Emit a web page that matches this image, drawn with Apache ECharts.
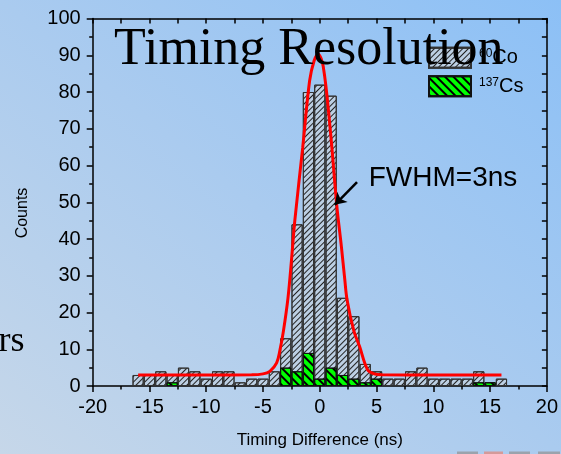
<!DOCTYPE html>
<html><head><meta charset="utf-8">
<script src="https://cdn.jsdelivr.net/npm/echarts@6/dist/echarts.min.js"></script>
<style>
html,body{margin:0;padding:0;width:561px;height:454px;overflow:hidden;}
body{background:linear-gradient(to top right,#c6d7e9 0%,#aacbef 50%,#8cc0f6 100%);}
#c{width:561px;height:454px;}
</style></head><body><div id="c"></div>
<script>
const binCenters = [-16,-15,-14,-13,-12,-11,-10,-9,-8,-7,-6,-5,-4,-3,-2,-1,0,1,2,3,4,5,6,7,8,9,10,11,12,13,14,15,16];
const coCounts   = [3,3,4,3,5,4,2,4,4,1,2,2,4,13,44,80,82,79,24,19,6,4,2,2,4,5,2,2,2,2,4,1,2];
const csCounts   = [0,0,0,1,0,0,0,0,0,0,0,0,0,5,4,9,2,5,3,2,1,2,0,0,0,0,0,0,0,0,1,1,0];
const fitX = [-16,-10,-6,-5,-4.4,-3.8,-3.5,-3.2,-2.8,-2.5,-2.2,-1.5,-0.9,-0.5,-0.15,0.3,0.9,1.5,1.9,2.2,2.4,3.0,3.5,4.2,4.8,5.5,10,16];
const fitY = [3,3,3.05,3.3,4.0,6.3,9.9,15,24,34,45,65,83,88.5,90.3,87,70.5,49,38,29,23.5,15,10.8,4.5,3.3,3.05,3,3];
const xTickMin = -20, xTickMax = 20, xTickStep = 5;
const yTickMin = 0, yTickMax = 100, yTickStep = 10;
const seriesNames = ['60Co','137Cs'];
const legendLabels = {'60Co':'{s|60}{b|Co}','137Cs':'{s|137}{b|Cs}'};
const titleText = 'Timing Resolution';
const noteText = 'FWHM=3ns';
const arrowFrom = [3.28,55.5], arrowTo = [1.32,49.3];

const SANS = "'Liberation Sans', Arial, sans-serif";
const SERIF = "'Liberation Serif', 'Times New Roman', serif";
const chart = echarts.init(document.getElementById('c'), null, {renderer:'canvas'});
const coData = binCenters.map((x,i)=>[x, coCounts[i]]);
const csData = binCenters.map((x,i)=>csCounts[i] ? [x, csCounts[i]] : [x, '-']);
const fitData = fitX.map((x,i)=>[x, fitY[i]]);
const axisLine = {show:true, onZero:false, lineStyle:{color:'#000', width:1.5}};
chart.setOption({
  animation:false,
  backgroundColor:'transparent',
  grid:{left:92.7, right:13.3, top:18.5, bottom:67.5, containLabel:false},
  xAxis:[{
    type:'value', position:'bottom', min:xTickMin, max:xTickMax, interval:xTickStep,
    axisLine, splitLine:{show:false},
    axisTick:{show:true, inside:false, length:6, lineStyle:{color:'#000', width:1.5}},
    minorTick:{show:true, splitNumber:2, length:3.5, lineStyle:{color:'#000', width:1.5}},
    axisLabel:{color:'#000', fontSize:20, fontFamily:SANS, margin:11},
    name:'Timing Difference (ns)', nameLocation:'middle', nameGap:46,
    nameTextStyle:{color:'#000', fontSize:17, fontFamily:SANS}
  },{
    type:'value', position:'top', min:xTickMin, max:xTickMax, interval:xTickStep/2,
    axisLine, splitLine:{show:false},
    axisTick:{show:true, inside:true, length:5, lineStyle:{color:'#000', width:1.5}},
    axisLabel:{show:false}
  }],
  yAxis:[{
    type:'value', position:'left', min:yTickMin, max:yTickMax, interval:yTickStep,
    axisLine, splitLine:{show:false},
    axisTick:{show:true, inside:false, length:6, lineStyle:{color:'#000', width:1.5}},
    minorTick:{show:true, splitNumber:2, length:3.5, lineStyle:{color:'#000', width:1.5}},
    axisLabel:{color:'#000', fontSize:20, fontFamily:SANS, margin:12}
  },{
    type:'value', position:'right', min:yTickMin, max:yTickMax, interval:yTickStep/2,
    axisLine, splitLine:{show:false},
    axisTick:{show:true, inside:true, length:5, lineStyle:{color:'#000', width:1.5}},
    axisLabel:{show:false}
  }],
  legend:{
    orient:'vertical', left:428, top:46.7, padding:0, itemWidth:42, itemHeight:20, itemGap:6.6,
    icon:'rect', data:seriesNames, selectedMode:false,
    formatter:n=>legendLabels[n],
    textStyle:{color:'#000', padding:[0,0,0,3],
      rich:{s:{fontSize:12, fontFamily:SANS, color:'#000', verticalAlign:'top', lineHeight:20},
            b:{fontSize:20, fontFamily:SANS, color:'#000', verticalAlign:'bottom', lineHeight:20}}}
  },
  series:[{
    name:seriesNames[0], type:'bar', data:coData, barWidth:11.2, xAxisIndex:0, yAxisIndex:0,
    itemStyle:{color:'#bccfe3', borderColor:'#333', borderWidth:1,
      decal:{symbol:'rect', symbolSize:1, color:'#222', dashArrayX:[1,0], dashArrayY:[1,2.6], rotation:-Math.PI/4}},
    z:2
  },{
    name:seriesNames[1], type:'bar', data:csData, barWidth:11.2, barGap:'-100%', xAxisIndex:0, yAxisIndex:0,
    itemStyle:{color:'#00ff00', borderColor:'#111', borderWidth:1,
      decal:{symbol:'rect', symbolSize:1, color:'#000', dashArrayX:[1,0], dashArrayY:[1.6,3.4], rotation:Math.PI/4}},
    z:3
  },{
    name:'fit', type:'line', data:fitData, smooth:0.35, showSymbol:false, symbol:'none',
    lineStyle:{color:'#ff0000', width:3}, z:4, silent:true,
    markLine:{silent:true, symbol:['none','arrow'], symbolSize:11, label:{show:false},
      lineStyle:{color:'#000', width:2.5, type:'solid'},
      data:[[{coord:arrowFrom},{coord:arrowTo}]]}
  }],
  graphic:[
    {type:'text', x:114, y:50, z:100, style:{text:titleText, font:"52px "+SERIF, fill:'#000', align:'left', verticalAlign:'middle'}},
    {type:'text', x:443, y:178.5, z:100, style:{text:noteText, font:"28px "+SANS, fill:'#000', align:'center', verticalAlign:'middle'}},
    {type:'text', x:24.5, y:341.5, z:100, style:{text:'rs', font:"36px "+SERIF, fill:'#000', align:'right', verticalAlign:'middle'}},
    {type:'text', x:23, y:213, rotation:Math.PI/2, z:100, style:{text:'Counts', font:"16px "+SANS, fill:'#000', align:'center', verticalAlign:'middle'}},
    {type:'rect', shape:{x:457,y:451.5,width:21,height:3}, style:{fill:'#9aa3ad'}},
    {type:'rect', shape:{x:484,y:451.5,width:19,height:3}, style:{fill:'#d49a9a'}},
    {type:'rect', shape:{x:509,y:451.5,width:21,height:3}, style:{fill:'#9aa3ad'}},
    {type:'rect', shape:{x:538,y:451.5,width:22,height:3}, style:{fill:'#9aa3ad'}}
  ]
});
</script></body></html>
